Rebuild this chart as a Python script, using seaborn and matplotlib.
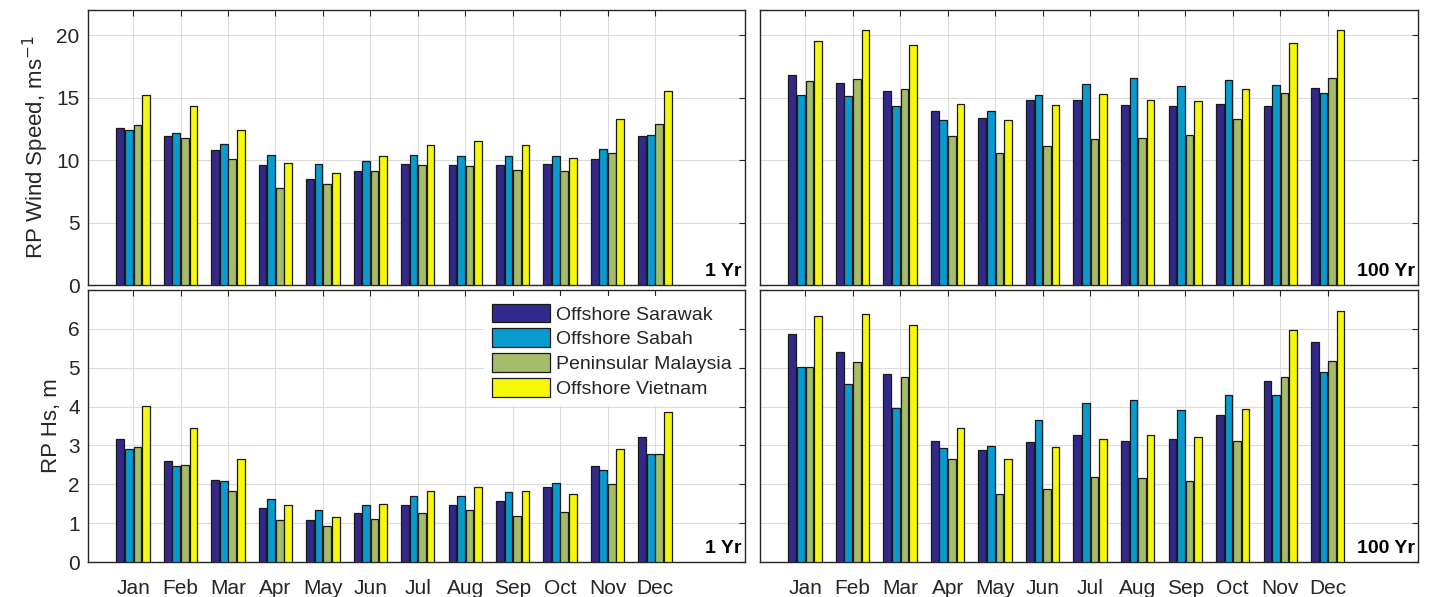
import numpy as np
import pandas as pd
import seaborn as sns
import matplotlib
matplotlib.use('Agg')
import matplotlib.pyplot as plt

months = ['Jan', 'Feb', 'Mar', 'Apr', 'May', 'Jun', 'Jul', 'Aug', 'Sep', 'Oct', 'Nov', 'Dec']
regions = ['Offshore Sarawak', 'Offshore Sabah', 'Peninsular Malaysia', 'Offshore Vietnam']
colours = ['#33298A', '#099BCF', '#A5BC6A', '#F7F70A']

# 1 year return period wind speed, m/s
ws1_sarawak = [12.6, 11.9, 10.8, 9.6, 8.5, 9.1, 9.7, 9.6, 9.6, 9.7, 10.1, 11.9]
ws1_sabah = [12.4, 12.2, 11.3, 10.4, 9.7, 9.9, 10.4, 10.3, 10.3, 10.3, 10.9, 12.0]
ws1_penin = [12.8, 11.8, 10.1, 7.8, 8.1, 9.1, 9.6, 9.5, 9.2, 9.1, 10.6, 12.9]
ws1_vietnam = [15.2, 14.3, 12.4, 9.8, 9.0, 10.3, 11.2, 11.5, 11.2, 10.2, 13.3, 15.5]

# 100 year return period wind speed, m/s
ws100_sarawak = [16.8, 16.2, 15.5, 13.9, 13.4, 14.8, 14.8, 14.4, 14.3, 14.5, 14.3, 15.8]
ws100_sabah = [15.2, 15.1, 14.3, 13.2, 13.9, 15.2, 16.1, 16.6, 15.9, 16.4, 16.0, 15.4]
ws100_penin = [16.3, 16.5, 15.7, 11.9, 10.6, 11.1, 11.7, 11.8, 12.0, 13.3, 15.4, 16.6]
ws100_vietnam = [19.5, 20.4, 19.2, 14.5, 13.2, 14.4, 15.3, 14.8, 14.7, 15.7, 19.4, 20.4]

# 1 year return period Hs, m
hs1_sarawak = [3.17, 2.61, 2.12, 1.39, 1.07, 1.25, 1.48, 1.48, 1.56, 1.92, 2.47, 3.22]
hs1_sabah = [2.91, 2.47, 2.09, 1.63, 1.33, 1.48, 1.71, 1.69, 1.80, 2.03, 2.38, 2.79]
hs1_penin = [2.97, 2.49, 1.83, 1.07, 0.93, 1.10, 1.27, 1.33, 1.19, 1.30, 2.00, 2.79]
hs1_vietnam = [4.02, 3.46, 2.64, 1.48, 1.16, 1.50, 1.83, 1.94, 1.83, 1.74, 2.91, 3.87]

# 100 year return period Hs, m
hs100_sarawak = [5.88, 5.41, 4.83, 3.11, 2.88, 3.08, 3.26, 3.11, 3.17, 3.78, 4.65, 5.65]
hs100_sabah = [5.03, 4.57, 3.96, 2.93, 2.99, 3.66, 4.08, 4.16, 3.90, 4.31, 4.31, 4.89]
hs100_penin = [5.03, 5.15, 4.75, 2.64, 1.74, 1.88, 2.18, 2.15, 2.09, 3.11, 4.75, 5.18]
hs100_vietnam = [6.32, 6.38, 6.09, 3.46, 2.64, 2.97, 3.16, 3.28, 3.22, 3.93, 5.97, 6.47]


def make_frame(series):
	rows = []
	for reg, vals in zip(regions, series):
		for m, v in zip(months, vals):
			rows.append({'month': m, 'region': reg, 'value': v})
	return pd.DataFrame(rows)


sns.set_style('white')
plt.rcParams['font.family'] = ['Liberation Sans', 'DejaVu Sans']

fig = plt.figure(figsize=(14.29, 5.97), dpi=100)
ax_tl = fig.add_axes([0.0616, 0.5226, 0.4598, 0.4606])
ax_tr = fig.add_axes([0.5318, 0.5226, 0.4605, 0.4606])
ax_bl = fig.add_axes([0.0616, 0.0586, 0.4598, 0.4556])
ax_br = fig.add_axes([0.5318, 0.0586, 0.4605, 0.4556])

panels = [
	(ax_tl, [ws1_sarawak, ws1_sabah, ws1_penin, ws1_vietnam], 22, [0, 5, 10, 15, 20], '1 Yr'),
	(ax_tr, [ws100_sarawak, ws100_sabah, ws100_penin, ws100_vietnam], 22, [0, 5, 10, 15, 20], '100 Yr'),
	(ax_bl, [hs1_sarawak, hs1_sabah, hs1_penin, hs1_vietnam], 7, [0, 1, 2, 3, 4, 5, 6], '1 Yr'),
	(ax_br, [hs100_sarawak, hs100_sabah, hs100_penin, hs100_vietnam], 7, [0, 1, 2, 3, 4, 5, 6], '100 Yr'),
]

for ax, series, ymax, yticks, tag in panels:
	df = make_frame(series)
	sns.barplot(data=df, x='month', y='value', hue='region', hue_order=regions,
		palette=colours, saturation=1, width=0.72, gap=0.1, edgecolor='#1a1a1a',
		linewidth=0.9, legend=(ax is ax_bl), ax=ax, zorder=3)
	ax.set_xlim(-0.95, 12.9)
	ax.set_ylim(0, ymax)
	ax.set_yticks(yticks)
	ax.set_xlabel('')
	ax.set_ylabel('')
	ax.grid(True, color='#dcdcdc', linewidth=0.8, zorder=0)
	ax.set_axisbelow(True)
	ax.tick_params(direction='in', top=True, right=True, length=4, width=0.8,
		colors='#262626', labelsize=15, pad=6)
	for s in ax.spines.values():
		s.set_color('#262626')
		s.set_linewidth(1.0)
	ax.text(0.995, 0.02, tag, transform=ax.transAxes, ha='right', va='bottom',
		fontsize=14, fontweight='bold', color='black', zorder=5)

for ax in [ax_tl, ax_tr]:
	ax.tick_params(labelbottom=False)
for ax in [ax_tr, ax_br]:
	ax.tick_params(labelleft=False)
for ax in [ax_bl, ax_br]:
	ax.tick_params(axis='x', pad=12)

ax_tl.set_ylabel('RP Wind Speed, ms$^{-1}$', fontsize=16, color='#262626')
ax_bl.set_ylabel('RP Hs, m', fontsize=16, color='#262626')

leg = ax_bl.legend(loc='upper right', bbox_to_anchor=(1.0, 1.0), fontsize=14,
	handlelength=3.0, handleheight=1.1, labelspacing=0.25, handletextpad=0.3,
	borderaxespad=0.3, frameon=True, framealpha=1, edgecolor='white', fancybox=False)
leg.get_frame().set_linewidth(0)
for p in leg.get_patches():
	p.set_edgecolor('#1a1a1a')

plt.savefig('out.png', dpi=100)
